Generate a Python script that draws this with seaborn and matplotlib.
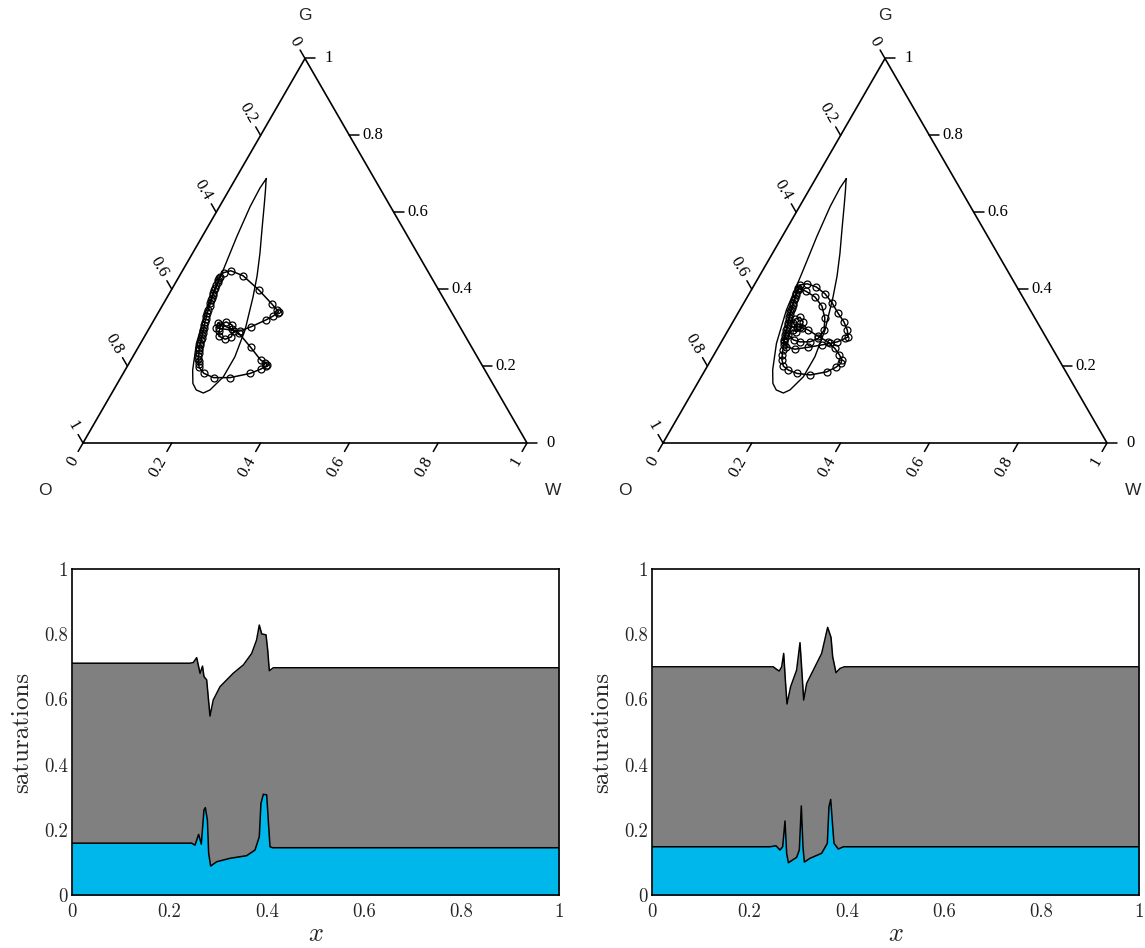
import numpy as np
import seaborn as sns
import matplotlib.pyplot as plt

sns.set_theme(style="white")
plt.rcParams["mathtext.fontset"] = "cm"
plt.rcParams["axes.formatter.use_mathtext"] = True

# ---------------- data ----------------
tick_vals = [0, 0.2, 0.4, 0.6, 0.8, 1]
tick_text = ["0", "0.2", "0.4", "0.6", "0.8", "1"]

# boundary of the elliptic region (water, gas saturation)
ellipse_sw = [0.069, 0.082, 0.097, 0.126, 0.152, 0.175, 0.193, 0.218, 0.230, 0.230, 0.217,
              0.206, 0.186, 0.170, 0.152, 0.126, 0.105, 0.092, 0.078, 0.069, 0.067, 0.069]
ellipse_sg = [0.687, 0.658, 0.623, 0.554, 0.493, 0.434, 0.380, 0.294, 0.224, 0.172, 0.138,
              0.130, 0.138, 0.155, 0.190, 0.259, 0.346, 0.442, 0.537, 0.615, 0.663, 0.687]

# saturation path, left case
left_path_sw = [0.161, 0.167, 0.185, 0.196, 0.194, 0.182, 0.165, 0.155, 0.158,
                0.207, 0.227, 0.252, 0.263, 0.269, 0.270, 0.264,
                0.244, 0.197, 0.143, 0.109, 0.095, 0.091,
                0.092, 0.093, 0.094, 0.095, 0.096, 0.097, 0.098, 0.100, 0.101, 0.103, 0.105,
                0.107, 0.109, 0.111, 0.113, 0.115, 0.117, 0.120, 0.122, 0.124, 0.126, 0.128,
                0.130, 0.132, 0.134, 0.136, 0.138, 0.141, 0.144, 0.147, 0.150, 0.154, 0.158,
                0.163, 0.182, 0.209, 0.246, 0.286, 0.304, 0.312, 0.314, 0.306,
                0.292, 0.253, 0.209, 0.187, 0.148, 0.150]
left_path_sg = [0.291, 0.278, 0.270, 0.276, 0.291, 0.307, 0.315, 0.307, 0.298,
                0.291, 0.302, 0.320, 0.330, 0.339, 0.341, 0.346,
                0.362, 0.398, 0.435, 0.448, 0.443, 0.433,
                0.428, 0.424, 0.418, 0.411, 0.404, 0.398, 0.391, 0.385, 0.378, 0.372, 0.364,
                0.356, 0.347, 0.338, 0.330, 0.323, 0.315, 0.307, 0.300, 0.294, 0.287, 0.281,
                0.274, 0.268, 0.261, 0.255, 0.248, 0.242, 0.234, 0.226, 0.219, 0.213, 0.205,
                0.197, 0.181, 0.170, 0.170, 0.181, 0.192, 0.200, 0.203, 0.208,
                0.216, 0.249, 0.285, 0.296, 0.312, 0.300]

# saturation path, right case
right_path_sw = [0.150, 0.138, 0.136, 0.145, 0.158, 0.163, 0.156, 0.145,
                 0.142, 0.160, 0.177, 0.199, 0.214, 0.216, 0.202, 0.180, 0.152, 0.124, 0.106,
                 0.105, 0.107, 0.110, 0.113, 0.116, 0.119, 0.123, 0.127, 0.131, 0.135, 0.139,
                 0.153, 0.175, 0.203, 0.230, 0.246, 0.261, 0.274, 0.279,
                 0.268, 0.250, 0.225, 0.199, 0.171, 0.142, 0.118, 0.103,
                 0.103, 0.105, 0.108, 0.111, 0.114, 0.117, 0.121, 0.125, 0.129, 0.133, 0.137,
                 0.141, 0.144, 0.149, 0.154, 0.160,
                 0.171, 0.187, 0.211, 0.243, 0.276, 0.291, 0.297, 0.295,
                 0.283, 0.264, 0.240, 0.210, 0.180, 0.158, 0.150]
right_path_sg = [0.302, 0.311, 0.322, 0.327, 0.315, 0.298, 0.289, 0.294,
                 0.281, 0.268, 0.263, 0.263, 0.272, 0.294, 0.325, 0.356, 0.380, 0.395, 0.401,
                 0.398, 0.385, 0.372, 0.359, 0.346, 0.333, 0.320, 0.307, 0.294, 0.281, 0.268,
                 0.250, 0.244, 0.249, 0.255, 0.259, 0.263, 0.272, 0.276,
                 0.294, 0.315, 0.338, 0.364, 0.388, 0.406, 0.414, 0.411,
                 0.404, 0.391, 0.378, 0.365, 0.352, 0.340, 0.327, 0.313, 0.300, 0.287, 0.274,
                 0.262, 0.255, 0.242, 0.229, 0.216,
                 0.200, 0.190, 0.181, 0.177, 0.185, 0.197, 0.207, 0.216,
                 0.229, 0.246, 0.263, 0.278, 0.294, 0.302, 0.302]

# saturation profiles: top of oil layer (sw + so) and water saturation
left_top_x = [0, 0.242, 0.249, 0.256, 0.263, 0.268, 0.271, 0.2765, 0.2834, 0.290, 0.304, 0.331,
              0.352, 0.369, 0.379, 0.3846, 0.3895, 0.3984, 0.4018, 0.4052, 0.4134, 1]
left_top = [0.711, 0.711, 0.713, 0.728, 0.680, 0.702, 0.670, 0.660, 0.549, 0.598, 0.639, 0.680,
            0.706, 0.741, 0.782, 0.828, 0.801, 0.798, 0.752, 0.688, 0.697, 0.697]
left_w_x = [0, 0.2457, 0.2526, 0.260, 0.2655, 0.271, 0.2738, 0.278, 0.2806, 0.2847, 0.297,
            0.3244, 0.3587, 0.3758, 0.3846, 0.388, 0.3929, 0.3998, 0.403, 0.4066, 0.412, 1]
left_w = [0.159, 0.159, 0.153, 0.186, 0.156, 0.261, 0.268, 0.230, 0.128, 0.089, 0.102,
          0.1125, 0.1206, 0.138, 0.179, 0.281, 0.309, 0.307, 0.230, 0.148, 0.145, 0.145]

right_top_x = [0, 0.249, 0.256, 0.2614, 0.2663, 0.2704, 0.2738, 0.2772, 0.2847, 0.297, 0.3039,
               0.308, 0.3115, 0.3176, 0.3313, 0.3484, 0.3607, 0.3676, 0.371, 0.3778, 0.386,
               0.395, 1]
right_top = [0.700, 0.700, 0.692, 0.687, 0.700, 0.741, 0.660, 0.586, 0.639, 0.690, 0.774,
             0.680, 0.598, 0.649, 0.690, 0.741, 0.821, 0.790, 0.731, 0.682, 0.695,
             0.700, 0.700]
right_w_x = [0, 0.2423, 0.2546, 0.2628, 0.2683, 0.2731, 0.2765, 0.280, 0.297, 0.3025, 0.3066,
             0.310, 0.3128, 0.3244, 0.3484, 0.360, 0.3634, 0.367, 0.370, 0.3737, 0.3826,
             0.3929, 1]
right_w = [0.148, 0.148, 0.151, 0.138, 0.148, 0.227, 0.128, 0.099, 0.1155, 0.138, 0.273,
           0.148, 0.101, 0.1125, 0.128, 0.1585, 0.271, 0.293, 0.230, 0.1585, 0.141,
           0.148, 0.148]

water_blue = "#00b7eb"
oil_gray = "#808080"

H = np.sqrt(3) / 2


def to_xy(sw, sg):
    sw = np.asarray(sw, dtype=float)
    sg = np.asarray(sg, dtype=float)
    return sw + sg / 2, sg * H


def ternary(ax, path_sw, path_sg):
    ax.set_xlim(-83 / 444, 489 / 444)
    ax.set_ylim(-77 / 444, 443 / 444)
    ax.axis("off")
    ax.plot([0, 1, 0.5, 0], [0, 0, H, 0], color="black", lw=1.2, solid_joinstyle="miter")
    tl = 0.022
    tfont = dict(family="Liberation Serif", fontsize=12, color="black")
    for v, t in zip(tick_vals, tick_text):
        # bottom: water
        ax.plot([v, v - tl / 2], [0, -tl * H], color="black", lw=1.1)
        ax.text(v - 0.019, -0.033, t, rotation=60, ha="right", va="center",
                rotation_mode="anchor", **tfont)
        # right: gas
        rx, ry = 1 - v / 2, v * H
        ax.plot([rx, rx + tl], [ry, ry], color="black", lw=1.1)
        ax.text(rx + 0.053, ry, t, ha="center", va="center", **tfont)
        # left: oil
        lx, ly = 0.5 - v / 2, (1 - v) * H
        ax.plot([lx, lx - tl / 2], [ly, ly + tl * H], color="black", lw=1.1)
        ax.text(lx - 0.0175, ly + 0.0302, t, rotation=-60, ha="right", va="center",
                rotation_mode="anchor", **tfont)
    cfont = dict(family="Liberation Sans", fontsize=12.5, ha="center", va="center")
    ax.text(0.5, 0.962, "G", **cfont)
    ax.text(-0.0856, -0.108, "O", **cfont)
    ax.text(1.0586, -0.108, "W", **cfont)

    ex, ey = to_xy(ellipse_sw, ellipse_sg)
    sns.lineplot(x=ex, y=ey, ax=ax, sort=False, estimator=None, color="black", lw=1.0)
    px, py = to_xy(path_sw, path_sg)
    sns.lineplot(x=px, y=py, ax=ax, sort=False, estimator=None, color="black", lw=1.1,
                 marker="o", ms=5.0, mfc="none", mec="black", mew=0.9)


def profile(ax, xt, top, xw, sw):
    ax.fill_between(xt, 0, top, color=oil_gray, lw=0)
    ax.fill_between(xw, 0, sw, color=water_blue, lw=0)
    sns.lineplot(x=xt, y=top, ax=ax, color="black", lw=1.1, estimator=None)
    sns.lineplot(x=xw, y=sw, ax=ax, color="black", lw=1.1, estimator=None)
    ax.set_xlim(0, 1)
    ax.set_ylim(0, 1)
    ax.set_xticks(tick_vals)
    ax.set_yticks(tick_vals)
    ax.set_xticklabels(tick_text, fontfamily="cmr10", fontsize=13.5)
    ax.set_yticklabels(tick_text, fontfamily="cmr10", fontsize=13.5)
    ax.tick_params(axis="both", length=0)
    ax.tick_params(axis="x", pad=6)
    ax.tick_params(axis="y", pad=3)
    for s in ax.spines.values():
        s.set_color("black")
        s.set_linewidth(1.2)
    ax.set_xlabel("$x$", fontsize=19, labelpad=0)
    ax.set_ylabel("saturations", fontfamily="cmr10", fontsize=18, labelpad=8)


fig = plt.figure(figsize=(11.45, 9.48), dpi=100)
W, Hf = 1145, 948

ax1 = fig.add_axes([0 / W, 428 / Hf, 572 / W, 520 / Hf])
ternary(ax1, left_path_sw, left_path_sg)
ax2 = fig.add_axes([580 / W, 428 / Hf, 572 / W, 520 / Hf])
ternary(ax2, right_path_sw, right_path_sg)

ax3 = fig.add_axes([72 / W, 53 / Hf, 487 / W, 326 / Hf])
profile(ax3, left_top_x, left_top, left_w_x, left_w)
ax4 = fig.add_axes([652 / W, 53 / Hf, 487 / W, 326 / Hf])
profile(ax4, right_top_x, right_top, right_w_x, right_w)

fig.savefig("out.png", dpi=100, facecolor="white")
